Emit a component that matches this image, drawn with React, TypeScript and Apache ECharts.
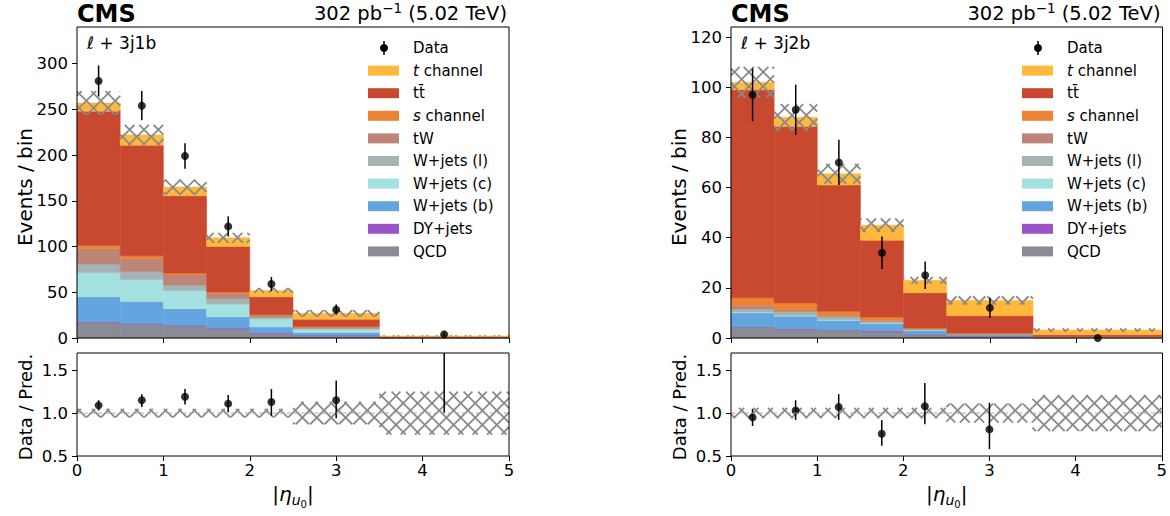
import React, { useEffect, useRef } from "react";
import * as echarts from "echarts";

const FAM = '"DejaVu Sans"';

// ---------------- data ----------------
const binEdges = [0, 0.5, 1, 1.5, 2, 2.5, 3.5, 5];
const binCenters = [0.25, 0.75, 1.25, 1.75, 2.25, 3.0, 4.25];
const xTickValues = [0, 1, 2, 3, 4, 5];
const yTicks3j1b = [0, 50, 100, 150, 200, 250, 300];
const yTicks3j2b = [0, 20, 40, 60, 80, 100, 120];
const ratioTicks = [0.5, 1.0, 1.5];

// l + 3j1b (stack order bottom -> top)
const j1b_QCD = [17, 15, 13, 10, 5, 3, 0.2];
const j1b_DY = [1, 1, 1, 1, 1, 0.2, 0.05];
const j1b_Wb = [27, 24, 18, 12, 6, 2.8, 0.15];
const j1b_Wc = [26.5, 24, 20, 14, 9, 3.5, 0.15];
const j1b_Wl = [9.5, 8.6, 6, 6, 2, 1, 0.05];
const j1b_tW = [16.5, 14.4, 11, 6, 1.5, 1.2, 0.1];
const j1b_s = [3.5, 3, 2, 1.4, 1, 0.8, 0.1];
const j1b_tt = [147, 120.6, 84.5, 49.6, 19.5, 8, 0.8];
const j1b_t = [9, 11.4, 9.5, 9.5, 7, 6.5, 0.7];
const j1b_data = [281, 254, 199, 122, 59, 31, 4];
const j1b_dataErr = [17, 16, 14, 11, 7.7, 5.6, 2];
const j1b_relUnc = [0.05, 0.05, 0.05, 0.05, 0.05, 0.13, 0.25];
const j1b_ratio = [1.09, 1.15, 1.19, 1.11, 1.13, 1.15, 1.8];
const j1b_ratioLo = [1.03, 1.07, 1.1, 1.01, 0.97, 0.94, 1.0];
const j1b_ratioHi = [1.15, 1.22, 1.28, 1.21, 1.28, 1.38, 2.6];

// l + 3j2b
const j2b_QCD = [4.4, 3.6, 3.3, 2.5, 1.3, 0.7, 0.1];
const j2b_DY = [0.1, 0.1, 0.1, 0.4, 0.2, 0.05, 0.02];
const j2b_Wb = [5.5, 5, 3.6, 2.8, 1.5, 0.55, 0.08];
const j2b_Wc = [0.4, 0.3, 0.3, 0.3, 0.3, 0.1, 0.02];
const j2b_Wl = [1.1, 1.5, 1.2, 0.6, 0.2, 0.1, 0.03];
const j2b_tW = [1.5, 0.7, 0.6, 0.4, 0.2, 0.1, 0.05];
const j2b_s = [3, 2.8, 1.6, 1.3, 0.3, 0.4, 0.2];
const j2b_tt = [83, 70.3, 50.3, 30.7, 14, 6.9, 0.8];
const j2b_t = [3, 3.7, 4.5, 6, 5, 6.1, 1.9];
const j2b_data = [97, 91, 70, 34, 25, 12, 0];
const j2b_dataErr = [10.5, 10, 9, 6.5, 5.5, 4, 0];
const j2b_relUnc = [0.06, 0.06, 0.06, 0.06, 0.06, 0.11, 0.21];
const j2b_ratio = [0.95, 1.03, 1.07, 0.76, 1.08, 0.81, null];
const j2b_ratioLo = [0.85, 0.92, 0.92, 0.62, 0.87, 0.58, null];
const j2b_ratioHi = [1.05, 1.15, 1.22, 0.92, 1.35, 1.12, null];

// ---------------- styles ----------------
const stackKeys = ["QCD", "DY", "Wb", "Wc", "Wl", "tW", "s", "tt", "t"];
const colors: Record<string, string> = {
  QCD: "#8b8b96",
  DY: "#9a54c7",
  Wb: "#63a6df",
  Wc: "#a6e1e1",
  Wl: "#a4b3b3",
  tW: "#bb8678",
  s: "#ec8333",
  tt: "#c8492f",
  t: "#ffb83c",
};
const legendOrder = ["t", "tt", "s", "tW", "Wl", "Wc", "Wb", "DY", "QCD"];
const legendLabels: Record<string, [string, string]> = {
  t: ["t", " channel"],
  tt: ["", "tt\u0304"],
  s: ["s", " channel"],
  tW: ["", "tW"],
  Wl: ["", "W+jets (l)"],
  Wc: ["", "W+jets (c)"],
  Wb: ["", "W+jets (b)"],
  DY: ["", "DY+jets"],
  QCD: ["", "QCD"],
};

const panels = [
  {
    region: ["3j1b"],
    left: 77,
    width: 432,
    yMax: 340,
    yTicks: yTicks3j1b,
    comps: { QCD: j1b_QCD, DY: j1b_DY, Wb: j1b_Wb, Wc: j1b_Wc, Wl: j1b_Wl, tW: j1b_tW, s: j1b_s, tt: j1b_tt, t: j1b_t } as Record<string, number[]>,
    data: j1b_data,
    err: j1b_dataErr,
    unc: j1b_relUnc,
    ratio: j1b_ratio,
    rlo: j1b_ratioLo,
    rhi: j1b_ratioHi,
  },
  {
    region: ["3j2b"],
    left: 731,
    width: 431.5,
    yMax: 124,
    yTicks: yTicks3j2b,
    comps: { QCD: j2b_QCD, DY: j2b_DY, Wb: j2b_Wb, Wc: j2b_Wc, Wl: j2b_Wl, tW: j2b_tW, s: j2b_s, tt: j2b_tt, t: j2b_t } as Record<string, number[]>,
    data: j2b_data,
    err: j2b_dataErr,
    unc: j2b_relUnc,
    ratio: j2b_ratio,
    rlo: j2b_ratioLo,
    rhi: j2b_ratioHi,
  },
];

const MAIN_TOP = 27;
const MAIN_H = 311;
const RATIO_TOP = 353;
const RATIO_H = 103;

// ---------------- helpers ----------------
let measureCtx: CanvasRenderingContext2D | null = null;
function tw(text: string, font: string) {
  if (!measureCtx) measureCtx = document.createElement("canvas").getContext("2d");
  measureCtx!.font = font;
  return measureCtx!.measureText(text).width;
}

// text placed by baseline
function textAt(x: number, baseline: number, text: string, size: number, opts: any = {}) {
  const style = opts.style || "normal";
  const weight = opts.weight || "normal";
  return {
    type: "text",
    z: 100,
    x,
    y: baseline - 0.346 * size,
    rotation: opts.rotation || 0,
    style: {
      text,
      fontSize: size,
      fontFamily: FAM,
      fontStyle: style,
      fontWeight: weight,
      fill: "#000",
      align: opts.align || "left",
      verticalAlign: "middle",
      textAlign: opts.align || "left",
      textVerticalAlign: "middle",
    },
  };
}
function fontStr(size: number, style = "normal", weight = "normal") {
  return `${style} ${weight} ${size}px ${FAM}`;
}

function stackRender(color: string) {
  return (params: any, api: any) => {
    const a = api.coord([api.value(0), api.value(3)]);
    const b = api.coord([api.value(1), api.value(2)]);
    return {
      type: "rect",
      shape: { x: a[0], y: a[1], width: b[0] - a[0], height: b[1] - a[1] },
      style: { fill: color, stroke: color, lineWidth: 0.5 },
    };
  };
}

const HATCH_P = 14.4;
function hatchRender(params: any, api: any) {
  const cs = params.coordSys;
  const a = api.coord([api.value(0), api.value(3)]);
  const b = api.coord([api.value(1), api.value(2)]);
  const rx0 = a[0];
  const rx1 = b[0];
  const ry0 = Math.max(a[1], cs.y);
  const ry1 = Math.min(b[1], cs.y + cs.height);
  const children: any[] = [];
  const st = { stroke: "#8a8a8a", lineWidth: 1.8 };
  if (ry1 <= ry0) return { type: "group", children };
  for (let c = Math.floor((rx0 - ry1) / HATCH_P) * HATCH_P; c <= rx1 - ry0; c += HATCH_P) {
    const xs = Math.max(rx0, ry0 + c);
    const xe = Math.min(rx1, ry1 + c);
    if (xe > xs) children.push({ type: "line", shape: { x1: xs, y1: xs - c, x2: xe, y2: xe - c }, style: st });
  }
  for (let c = Math.floor((rx0 + ry0) / HATCH_P) * HATCH_P; c <= rx1 + ry1; c += HATCH_P) {
    const xs = Math.max(rx0, c - ry1);
    const xe = Math.min(rx1, c - ry0);
    if (xe > xs) children.push({ type: "line", shape: { x1: xs, y1: c - xs, x2: xe, y2: c - xe }, style: st });
  }
  return { type: "group", children };
}

function errRender(params: any, api: any) {
  const cs = params.coordSys;
  const lo = api.coord([api.value(0), api.value(1)]);
  const hi = api.coord([api.value(0), api.value(2)]);
  const y1 = Math.min(lo[1], cs.y + cs.height);
  const y2 = Math.max(hi[1], cs.y);
  if (y1 <= y2) return { type: "group", children: [] };
  return {
    type: "line",
    shape: { x1: lo[0], y1, x2: lo[0], y2 },
    style: { stroke: "#000", lineWidth: 1.5 },
  };
}

function buildOption() {
  const grid: any[] = [];
  const xAxis: any[] = [];
  const yAxis: any[] = [];
  const series: any[] = [];
  const graphic: any[] = [];

  panels.forEach((p, pi) => {
    const gMain = pi * 2;
    const gRatio = pi * 2 + 1;
    grid.push({ left: p.left, top: MAIN_TOP, width: p.width, height: MAIN_H });
    grid.push({ left: p.left, top: RATIO_TOP, width: p.width, height: RATIO_H });

    [gMain, gRatio].forEach((gi) => {
      xAxis.push({
        type: "value",
        gridIndex: gi,
        min: 0,
        max: 5,
        axisLine: { show: false },
        splitLine: { show: false },
        axisTick: { show: true, inside: false, length: 5, lineStyle: { color: "#000", width: 1 }, customValues: xTickValues },
        axisLabel: {
          show: gi === gRatio,
          customValues: xTickValues,
          color: "#000",
          fontSize: 16.5,
          fontFamily: FAM,
          margin: 6,
        },
      });
    });
    yAxis.push({
      type: "value",
      gridIndex: gMain,
      min: 0,
      max: p.yMax,
      axisLine: { show: false },
      splitLine: { show: false },
      axisTick: { show: true, inside: false, length: 5, lineStyle: { color: "#000", width: 1 }, customValues: p.yTicks },
      axisLabel: { customValues: p.yTicks, color: "#000", fontSize: 16.5, fontFamily: FAM, margin: 9 },
    });
    yAxis.push({
      type: "value",
      gridIndex: gRatio,
      min: 0.5,
      max: 1.7,
      axisLine: { show: false },
      splitLine: { show: false },
      axisTick: { show: true, inside: false, length: 5, lineStyle: { color: "#000", width: 1 }, customValues: ratioTicks },
      axisLabel: {
        customValues: ratioTicks,
        color: "#000",
        fontSize: 16.5,
        fontFamily: FAM,
        margin: 9,
        formatter: (v: number) => v.toFixed(1),
      },
    });

    // stacked histograms
    const cum = binCenters.map(() => 0);
    stackKeys.forEach((k) => {
      const vals = p.comps[k];
      const items = vals.map((v, i) => {
        const b = cum[i];
        cum[i] = b + v;
        return [binEdges[i], binEdges[i + 1], b, b + v];
      });
      series.push({
        type: "custom",
        name: k,
        xAxisIndex: gMain,
        yAxisIndex: gMain,
        renderItem: stackRender(colors[k]),
        encode: { x: [0, 1], y: [2, 3] },
        data: items,
        silent: true,
      });
    });
    const totals = cum.slice();
    // uncertainty band (main)
    series.push({
      type: "custom",
      xAxisIndex: gMain,
      yAxisIndex: gMain,
      renderItem: hatchRender,
      encode: { x: [0, 1], y: [2, 3] },
      data: totals.map((t, i) => [binEdges[i], binEdges[i + 1], t * (1 - p.unc[i]), t * (1 + p.unc[i])]),
      silent: true,
    });
    // data
    series.push({
      type: "custom",
      xAxisIndex: gMain,
      yAxisIndex: gMain,
      renderItem: errRender,
      encode: { x: 0, y: [1, 2] },
      data: p.data.map((d, i) => [binCenters[i], d - p.err[i], d + p.err[i]]),
      silent: true,
    });
    series.push({
      type: "scatter",
      xAxisIndex: gMain,
      yAxisIndex: gMain,
      symbol: "circle",
      symbolSize: 8,
      itemStyle: { color: "#000" },
      clip: true,
      data: p.data.map((d, i) => [binCenters[i], d]),
      silent: true,
    });

    // ratio panel
    series.push({
      type: "custom",
      xAxisIndex: gRatio,
      yAxisIndex: gRatio,
      renderItem: hatchRender,
      encode: { x: [0, 1], y: [2, 3] },
      data: p.unc.map((u, i) => [binEdges[i], binEdges[i + 1], 1 - u, 1 + u]),
      silent: true,
    });
    series.push({
      type: "line",
      xAxisIndex: gRatio,
      yAxisIndex: gRatio,
      symbol: "none",
      lineStyle: { color: "#aaaaaa", width: 1, type: [4, 3] },
      data: [
        [0, 1],
        [5, 1],
      ],
      silent: true,
    });
    const rItems: any[] = [];
    const rPts: any[] = [];
    p.ratio.forEach((r, i) => {
      if (r === null) return;
      rItems.push([binCenters[i], p.rlo[i], p.rhi[i]]);
      rPts.push([binCenters[i], r]);
    });
    series.push({
      type: "custom",
      xAxisIndex: gRatio,
      yAxisIndex: gRatio,
      renderItem: errRender,
      encode: { x: 0, y: [1, 2] },
      data: rItems,
      silent: true,
    });
    series.push({
      type: "scatter",
      xAxisIndex: gRatio,
      yAxisIndex: gRatio,
      symbol: "circle",
      symbolSize: 8,
      itemStyle: { color: "#000" },
      clip: true,
      data: rPts,
      silent: true,
    });

    // frames
    [
      [MAIN_TOP, MAIN_H],
      [RATIO_TOP, RATIO_H],
    ].forEach(([t, h]) => {
      graphic.push({
        type: "rect",
        z: 100,
        shape: { x: p.left, y: t, width: p.width, height: h },
        style: { fill: "none", stroke: "#000", lineWidth: 1 },
        silent: true,
      });
    });

    // header texts
    graphic.push(textAt(p.left, 22, "CMS", 24, { weight: "bold" }));
    const right = p.left + p.width - 2;
    const fs = 19.5;
    const partB = " (5.02 TeV)";
    const wB = tw(partB, fontStr(fs));
    const supS = 13.5;
    const wSup = tw("\u22121", fontStr(supS));
    graphic.push(textAt(right, 20.5, partB, fs, { align: "right" }));
    graphic.push(textAt(right - wB, 12.5, "\u22121", supS, { align: "right" }));
    graphic.push(textAt(right - wB - wSup, 20.5, "302 pb", fs, { align: "right" }));

    // region label  l + 3jXb
    const lx = p.left + 10;
    const lfs = 17;
    const wl = tw("\u2113", fontStr(lfs, "italic"));
    graphic.push(textAt(lx, 48.5, "\u2113", lfs, { style: "italic" }));
    graphic.push(textAt(lx + wl, 48.5, " + 3" + p.region[0].slice(1), lfs));

    // legend
    const patchX = p.left + 291;
    const textX = p.left + 336;
    const row0 = 48;
    const dy = 22.6;
    const lf = 15;
    graphic.push({
      type: "line",
      z: 100,
      shape: { x1: p.left + 307, y1: row0 - 7, x2: p.left + 307, y2: row0 + 7 },
      style: { stroke: "#000", lineWidth: 1.5 },
    });
    graphic.push({ type: "circle", z: 100, shape: { cx: p.left + 307, cy: row0, r: 4 }, style: { fill: "#000" } });
    graphic.push(textAt(textX, row0 + 0.36 * lf, "Data", lf));
    legendOrder.forEach((k, i) => {
      const cy = row0 + dy * (i + 1);
      graphic.push({
        type: "rect",
        z: 100,
        shape: { x: patchX, y: cy - 5, width: 31, height: 10 },
        style: { fill: colors[k] },
      });
      const [it, rest] = legendLabels[k];
      const base = cy + 0.36 * lf;
      let x = textX;
      if (it) {
        graphic.push(textAt(x, base, it, lf, { style: "italic" }));
        x += tw(it, fontStr(lf, "italic"));
      }
      graphic.push(textAt(x, base, rest, lf));
    });

    // y axis titles
    const titleX = p.left - 52;
    graphic.push({
      type: "text",
      z: 100,
      x: titleX,
      y: 187,
      rotation: Math.PI / 2,
      style: {
        text: "Events / bin",
        fontSize: 20,
        fontFamily: FAM,
        fill: "#000",
        align: "center",
        verticalAlign: "middle",
        textAlign: "center",
        textVerticalAlign: "middle",
      },
    });
    graphic.push({
      type: "text",
      z: 100,
      x: titleX,
      y: 407,
      rotation: Math.PI / 2,
      style: {
        text: "Data / Pred.",
        fontSize: 18,
        fontFamily: FAM,
        fill: "#000",
        align: "center",
        verticalAlign: "middle",
        textAlign: "center",
        textVerticalAlign: "middle",
      },
    });

    // x axis title |eta_{u0}|
    const xf = 20;
    const parts = [
      { t: "|", s: xf, st: "normal", dy: 0 },
      { t: "\u03b7", s: xf, st: "italic", dy: 0 },
      { t: "u", s: 14, st: "italic", dy: 4 },
      { t: "0", s: 10, st: "normal", dy: 7 },
      { t: "|", s: xf, st: "normal", dy: 0 },
    ];
    const widths = parts.map((q) => tw(q.t, fontStr(q.s, q.st)));
    const total = widths.reduce((a, b) => a + b, 0);
    let cx = p.left + p.width * 0.5 - total / 2;
    const xb = 501;
    parts.forEach((q, i) => {
      graphic.push(textAt(cx, xb + q.dy, q.t, q.s, { style: q.st }));
      cx += widths[i];
    });
  });

  return {
    animation: false,
    backgroundColor: "#fff",
    grid,
    xAxis,
    yAxis,
    series,
    graphic: { elements: graphic },
  };
}

export default function App() {
  const ref = useRef<HTMLDivElement>(null);
  useEffect(() => {
    const chart = echarts.init(ref.current!, null, { renderer: "svg" });
    chart.setOption(buildOption() as any);
    return () => chart.dispose();
  }, []);
  return (
    <div
      ref={ref}
      style={{ position: "absolute", left: 0, top: 0, width: 1170, height: 516, background: "#fff" }}
    />
  );
}
